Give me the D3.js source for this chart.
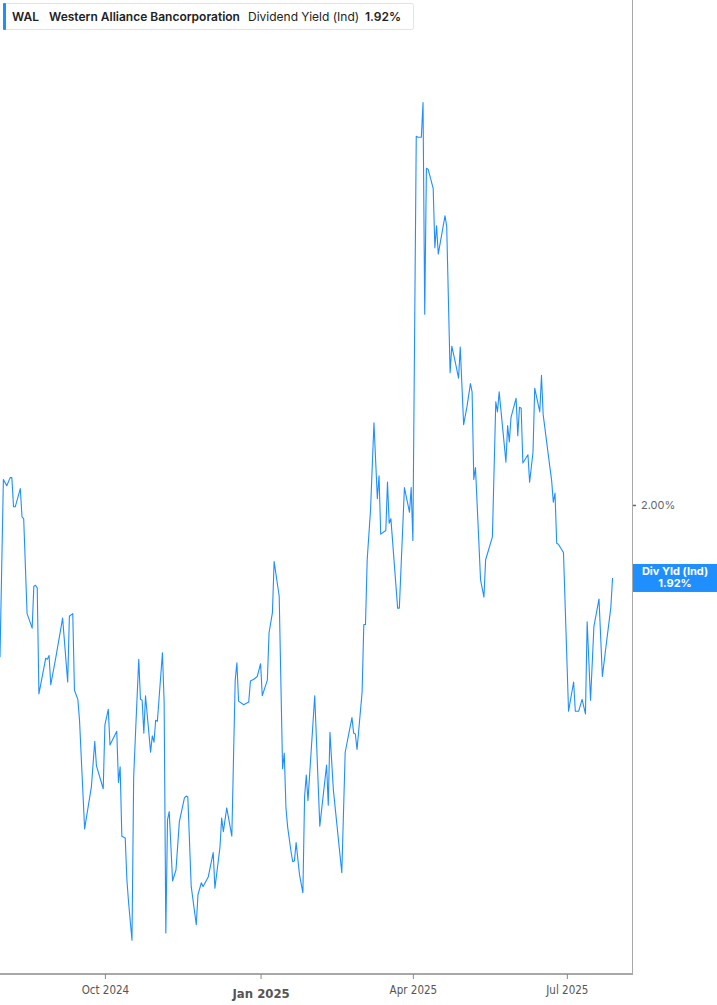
<!DOCTYPE html>
<html><head><meta charset="utf-8">
<script src="https://cdn.jsdelivr.net/npm/d3@7/dist/d3.min.js"></script>
<style>
html,body{margin:0;padding:0;background:#fff;}
svg{display:block;}
</style></head>
<body>
<script>
const ticker = "WAL";
const company = "Western Alliance Bancorporation";
const metric = "Dividend Yield (Ind)";
const lastLabel = "1.92%";
const boxLabel = "Div Yld (Ind)";

const dates = ["2024-07-31","2024-08-02","2024-08-04","2024-08-06","2024-08-07","2024-08-08","2024-08-09","2024-08-12","2024-08-13","2024-08-14",
"2024-08-16","2024-08-19","2024-08-20","2024-08-21","2024-08-22","2024-08-23","2024-08-27","2024-08-28","2024-08-29","2024-08-30",
"2024-09-02","2024-09-06","2024-09-09","2024-09-10","2024-09-12","2024-09-13","2024-09-15","2024-09-16","2024-09-19","2024-09-23",
"2024-09-25","2024-09-26","2024-09-30","2024-10-01","2024-10-03","2024-10-04","2024-10-08","2024-10-09","2024-10-10","2024-10-11",
"2024-10-13","2024-10-14","2024-10-15","2024-10-17","2024-10-18","2024-10-19","2024-10-21","2024-10-22","2024-10-23","2024-10-24",
"2024-10-25","2024-10-28","2024-10-29","2024-10-30","2024-10-31","2024-11-01","2024-11-04","2024-11-05","2024-11-06","2024-11-07",
"2024-11-08","2024-11-10","2024-11-12","2024-11-14","2024-11-17","2024-11-18","2024-11-19","2024-11-21","2024-11-24","2024-11-25",
"2024-11-27","2024-11-28","2024-12-01","2024-12-04","2024-12-05","2024-12-08","2024-12-09","2024-12-10","2024-12-12","2024-12-15",
"2024-12-17","2024-12-18","2024-12-19","2024-12-22","2024-12-25","2024-12-26","2024-12-28","2024-12-30","2025-01-01","2025-01-02",
"2025-01-05","2025-01-06","2025-01-08","2025-01-09","2025-01-12","2025-01-14","2025-01-15","2025-01-16","2025-01-17","2025-01-19",
"2025-01-20","2025-01-21","2025-01-22","2025-01-24","2025-01-26","2025-01-27","2025-01-28","2025-01-29","2025-02-02","2025-02-05",
"2025-02-09","2025-02-10","2025-02-11","2025-02-13","2025-02-18","2025-02-20","2025-02-22","2025-02-24","2025-02-25","2025-02-26",
"2025-02-27","2025-03-02","2025-03-03","2025-03-04","2025-03-05","2025-03-07","2025-03-09","2025-03-11","2025-03-12","2025-03-13",
"2025-03-16","2025-03-17","2025-03-18","2025-03-19","2025-03-23","2025-03-24","2025-03-27","2025-03-30","2025-03-31","2025-04-01",
"2025-04-03","2025-04-04","2025-04-06","2025-04-07","2025-04-08","2025-04-09","2025-04-10","2025-04-13","2025-04-14","2025-04-15",
"2025-04-16","2025-04-20","2025-04-21","2025-04-23","2025-04-24","2025-04-26","2025-04-28","2025-04-29","2025-05-01","2025-05-03",
"2025-05-05","2025-05-06","2025-05-07","2025-05-08","2025-05-11","2025-05-13","2025-05-14","2025-05-18","2025-05-20","2025-05-21",
"2025-05-22","2025-05-26","2025-05-27","2025-05-28","2025-05-29","2025-06-01","2025-06-02","2025-06-03","2025-06-04","2025-06-05",
"2025-06-08","2025-06-09","2025-06-11","2025-06-12","2025-06-15","2025-06-16","2025-06-17","2025-06-21","2025-06-22","2025-06-23",
"2025-06-24","2025-06-25","2025-06-26","2025-06-29","2025-07-02","2025-07-05","2025-07-06","2025-07-08","2025-07-10","2025-07-12",
"2025-07-13","2025-07-15","2025-07-17","2025-07-20","2025-07-22","2025-07-24","2025-07-27","2025-07-28"];

const yieldValues = [1.833,2.028,2.021,2.030,2.030,1.998,1.998,2.018,1.987,1.985,
1.881,1.865,1.911,1.912,1.909,1.793,1.832,1.831,1.835,1.803,
1.833,1.876,1.806,1.878,1.881,1.797,1.787,1.764,1.645,1.691,
1.741,1.714,1.689,1.759,1.776,1.737,1.752,1.696,1.713,1.637,
1.635,1.589,1.564,1.523,1.702,1.746,1.831,1.787,1.786,1.750,
1.791,1.729,1.747,1.740,1.764,1.763,1.838,1.784,1.531,1.655,
1.664,1.588,1.600,1.653,1.679,1.681,1.680,1.582,1.540,1.573,
1.586,1.582,1.592,1.619,1.580,1.625,1.657,1.642,1.668,1.637,
1.808,1.827,1.785,1.781,1.784,1.807,1.809,1.812,1.826,1.791,
1.808,1.860,1.882,1.938,1.900,1.711,1.728,1.668,1.647,1.620,
1.609,1.610,1.630,1.595,1.575,1.680,1.704,1.676,1.791,1.648,
1.715,1.671,1.751,1.688,1.597,1.729,1.748,1.767,1.750,1.749,
1.732,1.795,1.869,1.869,1.940,1.995,2.090,2.007,2.032,1.968,
1.972,2.025,1.980,1.985,1.887,1.887,2.019,1.992,2.019,1.961,
2.404,2.403,2.403,2.441,2.209,2.369,2.368,2.347,2.282,2.306,
2.275,2.317,2.305,2.145,2.174,2.157,2.139,2.173,2.088,2.108,
2.133,2.124,2.028,2.041,1.918,1.899,1.940,1.965,2.113,2.102,
2.124,2.047,2.087,2.069,2.096,2.117,2.076,2.107,2.106,2.046,
2.055,2.025,2.058,2.128,2.102,2.142,2.099,2.041,2.027,2.003,
2.013,1.958,1.957,1.948,1.774,1.806,1.774,1.774,1.787,1.771,
1.872,1.786,1.867,1.897,1.812,1.843,1.888,1.920];

const xTicks = ["2024-10-01","2025-01-01","2025-04-01","2025-07-01"];
const xTickLabels = ["Oct 2024","Jan 2025","Apr 2025","Jul 2025"];
const yTicks = [2.00];

const W = 717, H = 1005;
const plotW = 632, plotH = 974;
const blue = "#1f8fff";

const parse = d3.utcParse("%Y-%m-%d");
const data = dates.map((d, i) => ({date: parse(d), v: yieldValues[i]}));

const x = d3.scaleUtc()
  .domain([parse("2024-07-31"), new Date(Date.UTC(2025, 7, 8, 12))])
  .range([0, plotW]);
const y = d3.scaleLinear().domain([1.486, 2.5534]).range([plotH, 0]);

const svg = d3.select("body").append("svg").attr("width", W).attr("height", H);

// line
svg.append("path")
  .datum(data)
  .attr("fill", "none")
  .attr("stroke", blue)
  .attr("stroke-width", 1.1)
  .attr("stroke-linejoin", "round")
  .attr("d", d3.line().x(d => x(d.date)).y(d => y(d.v)));

// right border
svg.append("line").attr("x1", plotW + 0.5).attr("x2", plotW + 0.5).attr("y1", 0).attr("y2", plotH)
  .attr("stroke", "#a8a8a8").attr("stroke-width", 1);

// bottom axis
const xAxis = d3.axisBottom(x)
  .tickValues(xTicks.map(parse))
  .tickFormat((d, i) => xTickLabels[i])
  .tickSize(5).tickSizeOuter(0);
const gx = svg.append("g").attr("transform", `translate(0,${plotH})`).call(xAxis);
gx.select(".domain").attr("stroke", "#a8a8a8").attr("stroke-width", 2).attr("d", `M0,0H${plotW + 1}`);
gx.selectAll(".tick line").attr("stroke", "#888");
gx.selectAll(".tick text")
  .attr("fill", "#555")
  .attr("dy", "1.05em")
  .style("font-family", "'Liberation Sans Narrow','DejaVu Sans Condensed',Roboto,sans-serif")
  .style("font-size", "11.5px");
gx.selectAll(".tick text").filter((d, i) => i === 1)
  .style("font-weight", "bold").style("font-size", "13px").attr("dy", "1.2em").attr("fill", "#555");

// right axis
const yAxis = d3.axisRight(y).tickValues(yTicks).tickFormat(d => d.toFixed(2) + "%").tickSize(3);
const gy = svg.append("g").attr("transform", `translate(${plotW + 1},0)`).call(yAxis);
gy.select(".domain").remove();
gy.selectAll(".tick line").attr("stroke", "#666").attr("stroke-width", 1.5);
gy.selectAll(".tick text").attr("fill", "#666").attr("x", 8)
  .style("font-family", "Inter,'Noto Sans',sans-serif").style("font-size", "11px");

// last value badge
const last = data[data.length - 1];
const ly = y(last.v);
const badge = svg.append("g");
badge.append("rect").attr("x", plotW + 1).attr("y", ly - 14).attr("width", W - plotW - 1).attr("height", 28).attr("fill", blue);
badge.append("text").attr("x", (plotW + 1 + W) / 2).attr("y", ly - 2.5).attr("text-anchor", "middle")
  .attr("fill", "#fff").style("font-family", "Inter,'Noto Sans',sans-serif").style("font-size", "11px").style("font-weight", "bold")
  .text(boxLabel);
badge.append("text").attr("x", (plotW + 1 + W) / 2).attr("y", ly + 9.5).attr("text-anchor", "middle")
  .attr("fill", "#fff").style("font-family", "Inter,'Noto Sans',sans-serif").style("font-size", "11px").style("font-weight", "bold")
  .text(lastLabel);

// legend
const leg = svg.append("g");
leg.append("rect").attr("x", 3.5).attr("y", 3.5).attr("width", 410).attr("height", 26).attr("rx", 2)
  .attr("fill", "#fff").attr("stroke", "#e3e3e3");
leg.append("rect").attr("x", 3).attr("y", 3).attr("width", 3).attr("height", 27).attr("rx", 1).attr("fill", blue);
const lt = leg.append("text").attr("y", 21).style("font-family", "Inter,'Noto Sans',sans-serif").style("font-size", "12px").attr("fill", "#222");
lt.append("tspan").attr("x", 12).style("font-weight", "600").text(ticker);
lt.append("tspan").attr("x", 49).style("font-weight", "600").text(company);
lt.append("tspan").attr("x", 248).text(metric);
lt.append("tspan").attr("x", 365).style("font-weight", "600").text(lastLabel);
</script>
</body></html>
